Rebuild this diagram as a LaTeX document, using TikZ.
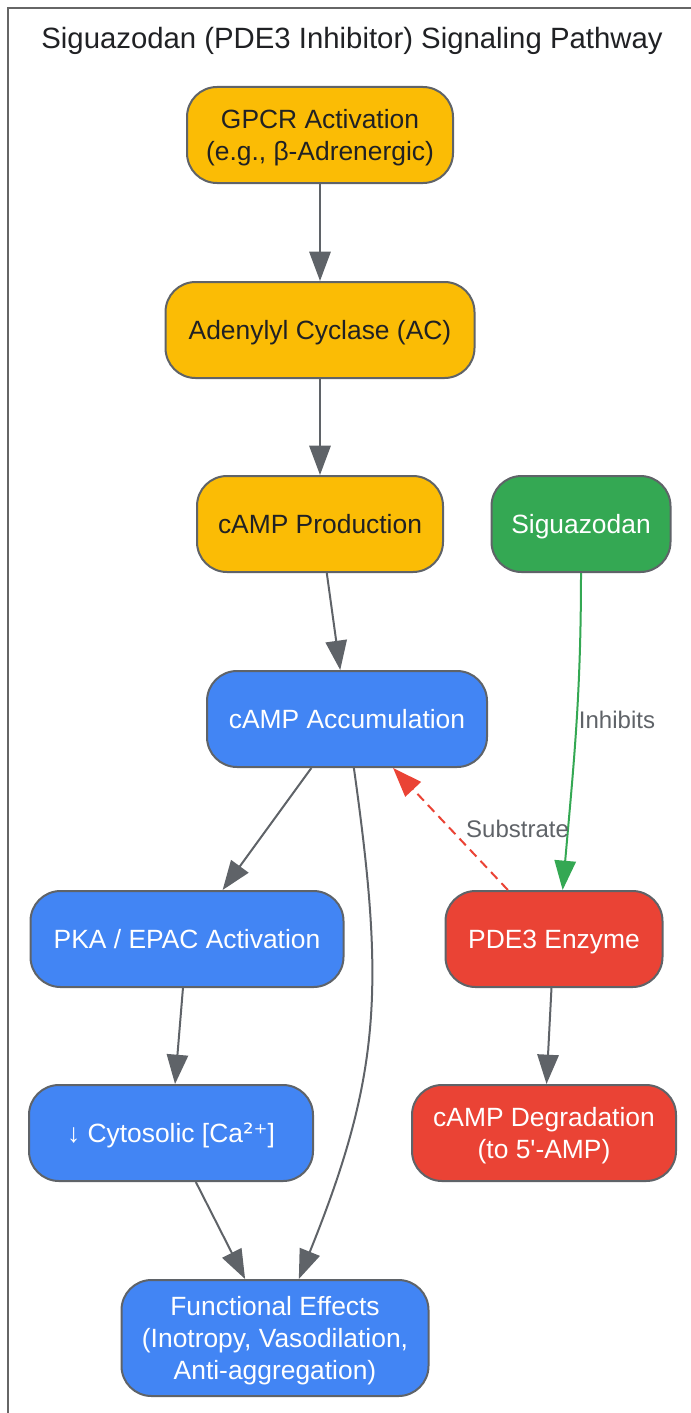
\documentclass[tikz,border=0pt]{standalone}
\usepackage{fontspec}
\setmainfont{Liberation Sans}
\newfontfamily\symfont{DejaVu Sans}
\usetikzlibrary{arrows.meta}

\definecolor{gyellow}{HTML}{FBBC05}
\definecolor{gblue}{HTML}{4285F4}
\definecolor{ggreen}{HTML}{34A853}
\definecolor{gred}{HTML}{EA4335}
\definecolor{gdark}{HTML}{202124}
\definecolor{edgegray}{HTML}{5F6368}
\definecolor{framegray}{HTML}{666666}

\newcommand{\topstrut}{\rule{0pt}{19.8pt}}
\newcommand{\botstrut}{\rule[-5pt]{0pt}{5pt}}

\begin{document}
\begin{tikzpicture}[x=0.75pt, y=-0.75pt,
    box/.style={rectangle, rounded corners=22.5pt, draw=edgegray, line width=1.5pt,
        minimum height=72pt, align=center, text=white,
        font=\fontsize{19.8}{24}\selectfont},
    yellowbox/.style={box, fill=gyellow, text=gdark},
    bluebox/.style={box, fill=gblue},
    greenbox/.style={box, fill=ggreen},
    redbox/.style={box, fill=gred},
    flow/.style={-{Triangle[length=22pt,width=16pt]}, draw=edgegray, line width=1.5pt},
    lbl/.style={font=\fontsize{18}{22}\selectfont, text=edgegray, inner sep=1pt}]
        \useasboundingbox (0,0) rectangle (691,1413);
        \draw[framegray, line width=1.5pt] (8,1413) -- (8,8) -- (691,8);
        \node[text=gdark, font=\fontsize{22}{26}\selectfont] (title) at
            (352,41) {Siguazodan (PDE3 Inhibitor) Signaling Pathway};

        % cAMP production chain
        \node[yellowbox, minimum width=199.5pt] (gpcr) at
            (320,135) {\topstrut GPCR Activation\\(e.g., β-Adrenergic)\botstrut};
        \node[yellowbox, minimum width=231.75pt] (ac) at
            (320,330) {\topstrut Adenylyl Cyclase (AC)\botstrut};
        \node[yellowbox, minimum width=184.5pt] (prod) at
            (320,524) {\topstrut cAMP Production\botstrut};
        \node[bluebox, minimum width=210pt] (accum) at
            (347,719) {\topstrut cAMP Accumulation\botstrut};
        \node[bluebox, minimum width=234.75pt] (pka) at
            (187,939) {\topstrut PKA / EPAC Activation\botstrut};
        \node[bluebox, minimum width=213pt] (cyto) at
            (171,1133) {\topstrut ↓ Cytosolic [Ca{\symfont ²⁺}]\botstrut};
        \node[bluebox, minimum width=230.25pt, minimum height=87pt] (func) at
            (275,1338) {\topstrut Functional Effects\\(Inotropy, Vasodilation,\\Anti-aggregation)\botstrut};

        % drug and PDE3
        \node[greenbox, minimum width=134.25pt] (sig) at
            (581,524) {\topstrut Siguazodan\botstrut};
        \node[redbox, minimum width=162.75pt] (pde) at
            (554,939) {\topstrut PDE3 Enzyme\botstrut};
        \node[redbox, minimum width=198pt] (degr) at
            (544,1133) {\topstrut cAMP Degradation\\(to 5\textquotesingle-AMP)\botstrut};

        \draw[flow] (gpcr) -- (ac);
        \draw[flow] (ac) -- (prod);
        \draw[flow] (prod) -- (accum);
        \draw[flow] (accum) -- (pka);
        \draw[flow] (accum) to[out=-82,in=68,looseness=1.1] (func);
        \draw[flow] (pka) -- (cyto);
        \draw[flow] (cyto) -- (func);
        \draw[flow, draw=ggreen] (sig) to[out=-90,in=85]
            node[lbl, pos=0.46, anchor=west] {Inhibits} (pde.80);
        \draw[flow, draw=gred, dash pattern=on 7pt off 4.5pt] (pde) --
            node[lbl, pos=0.5, anchor=west, xshift=10pt] {Substrate} (accum);
        \draw[flow] (pde) -- (degr);

    \end{tikzpicture}
\end{document}
